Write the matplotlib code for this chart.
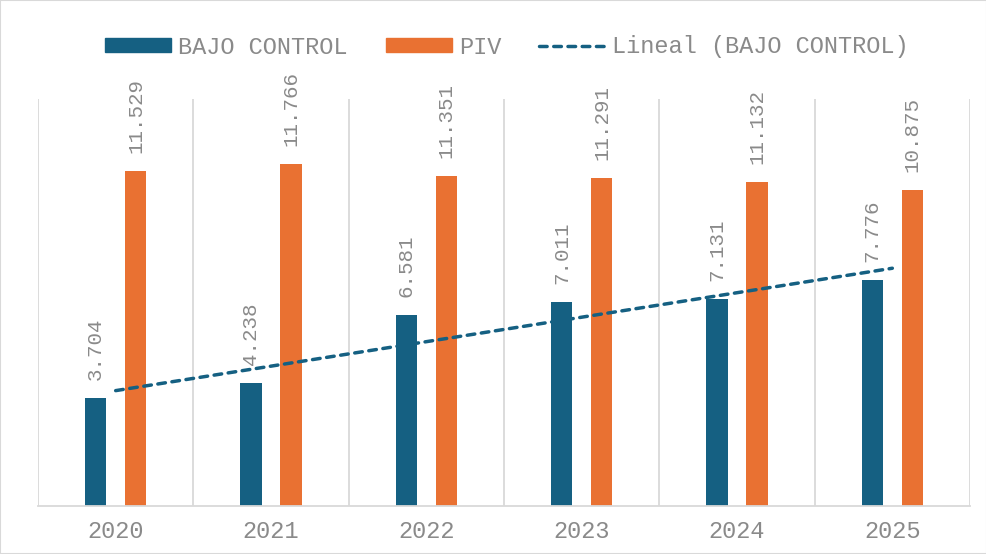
import numpy as np
import matplotlib
matplotlib.use("Agg")
import matplotlib.pyplot as plt
from matplotlib.patches import Rectangle
from matplotlib.lines import Line2D
from matplotlib.patches import Patch

years = ["2020", "2021", "2022", "2023", "2024", "2025"]
bajo_control = [3.704, 4.238, 6.581, 7.011, 7.131, 7.776]
piv = [11.529, 11.766, 11.351, 11.291, 11.132, 10.875]
labels_bajo = ["3.704", "4.238", "6.581", "7.011", "7.131", "7.776"]
labels_piv = ["11.529", "11.766", "11.351", "11.291", "11.132", "10.875"]

C_BLUE = "#156082"
C_ORANGE = "#E97132"
C_TEXT = "#8A8A8A"
C_GRID = "#D9D9D9"
FONT = "Liberation Mono"

fig = plt.figure(figsize=(9.87, 5.54), dpi=100)
ax = fig.add_axes([38/987, 48/554, (970-38)/987, (506-99)/554])

x = np.arange(len(years))
off = 0.129
w = 0.137
ax.bar(x - off, bajo_control, width=w, color=C_BLUE, zorder=2)
ax.bar(x + off, piv, width=w, color=C_ORANGE, zorder=2)

# linear trend of BAJO CONTROL
xi = x + 1
slope, intercept = np.polyfit(xi, bajo_control, 1)
ax.plot(x, slope * xi + intercept, color=C_BLUE, lw=2.5,
        dashes=(2.2, 1.9), dash_capstyle="round", zorder=3)

for xv, v, t in zip(x - off, bajo_control, labels_bajo):
    ax.annotate(t, (xv, v), xytext=(0, 13), textcoords="offset points",
                rotation=90, ha="center", va="bottom", color=C_TEXT,
                fontsize=15, family=FONT, zorder=4)
for xv, v, t in zip(x + off, piv, labels_piv):
    ax.annotate(t, (xv, v), xytext=(0, 13), textcoords="offset points",
                rotation=90, ha="center", va="bottom", color=C_TEXT,
                fontsize=15, family=FONT, zorder=4)

ax.set_xlim(-0.5, len(years) - 0.5)
ax.set_ylim(0, 14)
for b in np.arange(-0.5, len(years), 1.0):
    ax.axvline(b, color=C_GRID, lw=1.3, zorder=1)

for s in ["top", "right", "left"]:
    ax.spines[s].set_visible(False)
ax.spines["bottom"].set_color(C_GRID)
ax.spines["bottom"].set_linewidth(1.3)
ax.set_yticks([])
ax.set_xticks(x)
ax.set_xticklabels(years, family=FONT, fontsize=17, color=C_TEXT)
ax.tick_params(axis="x", length=0, pad=10)

handles = [Patch(color=C_BLUE, label="BAJO CONTROL"),
           Patch(color=C_ORANGE, label="PIV"),
           Line2D([0], [0], color=C_BLUE, lw=2.5, dashes=(2.2, 1.9),
                  dash_capstyle="round", label="Lineal (BAJO CONTROL)")]
leg = fig.legend(handles=handles, loc="center", bbox_to_anchor=(507/987, 1 - 47/554),
                 ncol=3, frameon=False, prop={"family": FONT, "size": 17},
                 handlelength=2.8, handleheight=0.5, handletextpad=0.3,
                 columnspacing=1.6, labelcolor=C_TEXT)

fig.patches.append(Rectangle((0, 0), 1, 1, transform=fig.transFigure,
                             fill=False, edgecolor=C_GRID, lw=1.5))

fig.savefig("out.png", dpi=100)
